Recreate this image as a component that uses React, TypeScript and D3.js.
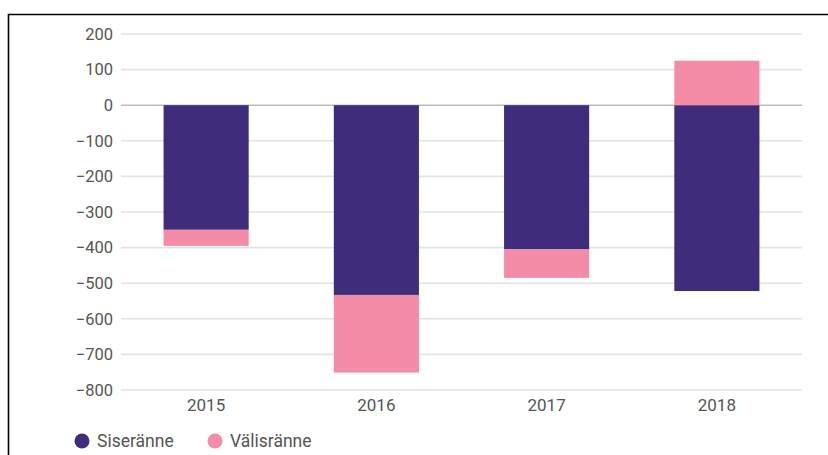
import React from "react";
import * as d3 from "d3";

const years = ["2015", "2016", "2017", "2018"];
const siseranne = [-350, -533, -405, -522];
const valisranne = [-45, -218, -80, 125];
const yTicks = [200, 100, 0, -100, -200, -300, -400, -500, -600, -700, -800];
const seriesNames = ["Siseränne", "Välisränne"];
const colors = ["#3f2d7c", "#f48ca8"];

export default function App() {
  const W = 828, H = 455;
  const x = d3.scaleBand<string>().domain(years).range([121, 802]).paddingInner(0.5).paddingOuter(0.25);
  const y = d3.scaleLinear().domain([-800, 200]).range([390, 34]);

  const rows = years.map((yr, i) => ({ year: yr, s: siseranne[i], v: valisranne[i] }));
  const stack = d3.stack<any>().keys(["s", "v"]).offset(d3.stackOffsetDiverging);
  const series = stack(rows);

  return (
    <svg width={W} height={H} style={{ position: "absolute", left: 0, top: 0, fontFamily: "Roboto, sans-serif" }}>
      <rect width={W} height={H} fill="#fff" />
      <path d={`M8.5,${H} V14.5 H${W}`} fill="none" stroke="#000" strokeWidth={1.6} />
      {yTicks.map((t) => (
        <g key={t}>
          <line x1={121} x2={802} y1={y(t)} y2={y(t)} stroke={t === 0 ? "#bdbdbd" : "#e3e3e3"} strokeWidth={1.6} />
          <text x={113} y={y(t)} dy="0.35em" textAnchor="end" fontSize={16.5} fill="#555">
            {t < 0 ? "\u2212" + Math.abs(t) : String(t)}
          </text>
        </g>
      ))}
      {series.map((s, si) => (
        <g key={si} fill={colors[si]}>
          {s.map((d: any, i: number) => (
            <rect
              key={i}
              x={x(years[i])}
              width={x.bandwidth()}
              y={y(Math.max(d[0], d[1]))}
              height={Math.abs(y(d[0]) - y(d[1]))}
            />
          ))}
        </g>
      ))}
      {years.map((yr) => (
        <text key={yr} x={(x(yr) as number) + x.bandwidth() / 2} y={405} dy="0.35em" textAnchor="middle" fontSize={17} fill="#555">
          {yr}
        </text>
      ))}
      {seriesNames.map((n, i) => {
        const lx = [82, 215][i];
        return (
          <g key={n}>
            <circle cx={lx} cy={441} r={7.5} fill={colors[i]} />
            <text x={lx + 15} y={441} dy="0.35em" fontSize={17.5} fill="#555">{n}</text>
          </g>
        );
      })}
    </svg>
  );
}
